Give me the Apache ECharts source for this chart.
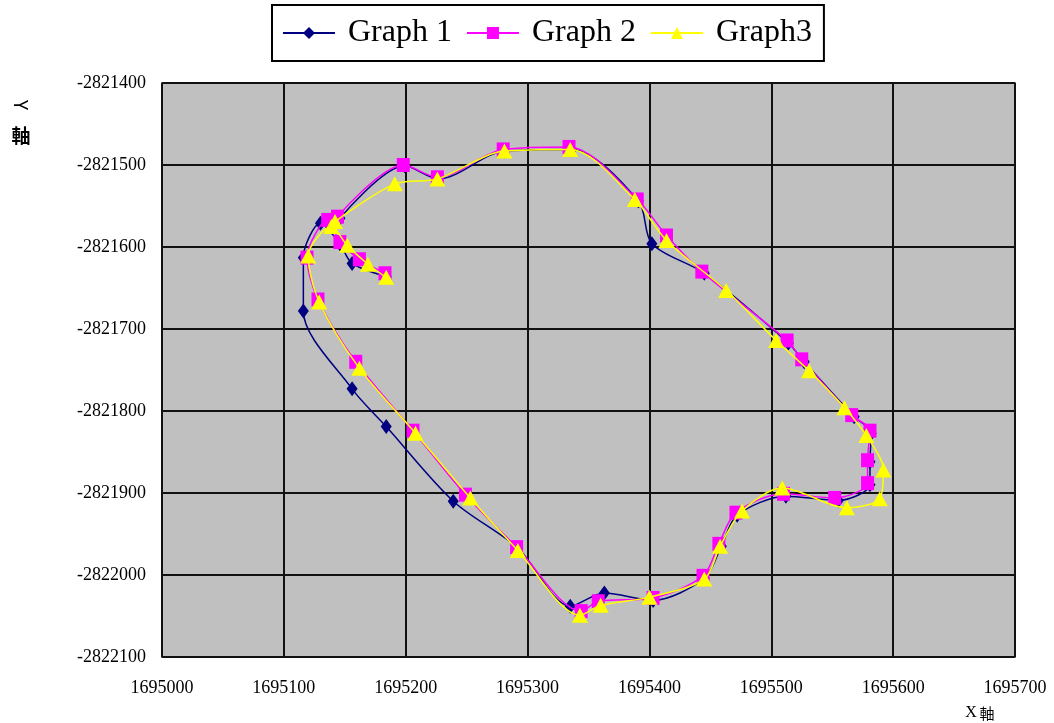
<!DOCTYPE html>
<html>
<head>
<meta charset="utf-8">
<script src="https://cdn.jsdelivr.net/npm/echarts@6/dist/echarts.min.js"></script>
<style>
html,body{margin:0;padding:0;background:#fff;}
#chart{width:1054px;height:723px;}
</style>
</head>
<body>
<div id="chart"></div>
<script>
// Series names
const seriesNames = ['Graph 1', 'Graph 2', 'Graph3'];

// Graph 1 (navy, diamonds)
const graph1X = [1695184, 1695156, 1695146, 1695130, 1695116, 1695116, 1695156, 1695184, 1695239, 1695292, 1695335, 1695363, 1695403, 1695445, 1695459, 1695472, 1695512, 1695555, 1695581, 1695581, 1695582, 1695568, 1695527, 1695514, 1695445, 1695402, 1695391, 1695336, 1695281, 1695227, 1695199, 1695146];
const graph1Y = [-2821636, -2821620, -2821596, -2821571, -2821613, -2821678, -2821773, -2821819, -2821910, -2821967, -2822038, -2822022, -2822031, -2822004, -2821965, -2821927, -2821904, -2821909, -2821890, -2821862, -2821827, -2821807, -2821740, -2821717, -2821632, -2821596, -2821544, -2821481, -2821483, -2821517, -2821501, -2821565];

// Graph 2 (magenta, squares)
const graph2X = [1695183, 1695162, 1695146, 1695136, 1695119, 1695128, 1695159, 1695206, 1695249, 1695291, 1695344, 1695358, 1695403, 1695444, 1695457, 1695471, 1695510, 1695552, 1695579, 1695579, 1695581, 1695566, 1695525, 1695513, 1695443, 1695414, 1695390, 1695334, 1695280, 1695226, 1695198, 1695144];
const graph2Y = [-2821632, -2821615, -2821594, -2821567, -2821613, -2821664, -2821740, -2821824, -2821902, -2821966, -2822044, -2822032, -2822028, -2822001, -2821962, -2821924, -2821901, -2821906, -2821888, -2821860, -2821824, -2821805, -2821737, -2821714, -2821630, -2821586, -2821542, -2821478, -2821481, -2821515, -2821500, -2821563];

// Graph3 (yellow, triangles)
const graph3X = [1695184, 1695169, 1695152, 1695139, 1695120, 1695129, 1695162, 1695208, 1695253, 1695292, 1695343, 1695360, 1695400, 1695445, 1695458, 1695476, 1695509, 1695562, 1695589, 1695592, 1695578, 1695560, 1695531, 1695504, 1695463, 1695414, 1695388, 1695335, 1695281, 1695226, 1695191, 1695142];
const graph3Y = [-2821637, -2821621, -2821598, -2821575, -2821611, -2821667, -2821748, -2821827, -2821906, -2821970, -2822049, -2822037, -2822027, -2822005, -2821965, -2821922, -2821894, -2821918, -2821907, -2821872, -2821830, -2821796, -2821751, -2821714, -2821653, -2821592, -2821542, -2821481, -2821483, -2821517, -2821523, -2821569];

// Axis ranges
const xRange = [1695000, 1695700];
const yRange = [-2822100, -2821400];
const tickStep = 100;

function zip(xs, ys) { return xs.map((x, i) => [x, ys[i]]); }

const chart = echarts.init(document.getElementById('chart'), null, {renderer: 'canvas'});
const serif = '"Liberation Serif", "Times New Roman", serif';
const cjk = '"Noto Sans CJK TC", "Noto Sans CJK SC", sans-serif';

const seriesStyles = [
  {color: '#000080', symbol: 'diamond', size: [11, 15]},
  {color: '#FF00FF', symbol: 'rect', size: [13, 14]},
  {color: '#FFFF00', symbol: 'triangle', size: [16, 15]}
];
const seriesData = [zip(graph1X, graph1Y), zip(graph2X, graph2Y), zip(graph3X, graph3Y)];

chart.setOption({
  animation: false,
  backgroundColor: '#ffffff',
  grid: {
    left: 162, top: 83, right: 39, bottom: 66,
    show: true, backgroundColor: '#C0C0C0', borderColor: '#808080', borderWidth: 2
  },
  legend: {
    data: seriesNames,
    left: 272, top: 5,
    padding: [12, 12, 12, 10],
    itemGap: 14,
    itemWidth: 52, itemHeight: 15,
    borderColor: '#000', borderWidth: 2,
    textStyle: {fontFamily: serif, fontSize: 32, color: '#000', padding: [0, 0, 0, 8]}
  },
  xAxis: {
    type: 'value', min: xRange[0], max: xRange[1], interval: tickStep,
    axisLine: {show: false},
    axisTick: {show: false},
    axisLabel: {fontFamily: serif, fontSize: 18, color: '#000', margin: 22, formatter: v => String(v)},
    splitLine: {show: true, lineStyle: {color: '#111', width: 2}}
  },
  yAxis: {
    type: 'value', min: yRange[0], max: yRange[1], interval: tickStep,
    axisLine: {show: false},
    axisTick: {show: false},
    axisLabel: {fontFamily: serif, fontSize: 18, color: '#000', margin: 16, formatter: v => String(v)},
    splitLine: {show: true, lineStyle: {color: '#111', width: 2}}
  },
  graphic: [
    {type: 'text', x: 21, y: 105, rotation: -Math.PI / 2,
      style: {text: 'Y', font: '19px ' + cjk, fill: '#000', align: 'center', verticalAlign: 'middle'}},
    {type: 'text', x: 21, y: 136,
      style: {text: '軸', font: 'bold 19px ' + cjk, fill: '#000', align: 'center', verticalAlign: 'middle'}},
    {type: 'text', x: 971, y: 713,
      style: {text: 'X', font: '16px ' + serif, fill: '#000', align: 'center', verticalAlign: 'middle'}},
    {type: 'text', x: 987, y: 713,
      style: {text: '軸', font: '15px ' + cjk, fill: '#000', align: 'center', verticalAlign: 'middle'}}
  ],
  series: seriesNames.map((name, i) => ({
    name: name,
    type: 'line',
    data: seriesData[i],
    smooth: 0.3,
    symbol: seriesStyles[i].symbol,
    symbolSize: seriesStyles[i].size,
    showAllSymbol: true,
    color: seriesStyles[i].color,
    itemStyle: {color: seriesStyles[i].color},
    lineStyle: {color: seriesStyles[i].color, width: 1.5},
    clip: false,
    z: 2 + i
  }))
});
</script>
</body>
</html>
